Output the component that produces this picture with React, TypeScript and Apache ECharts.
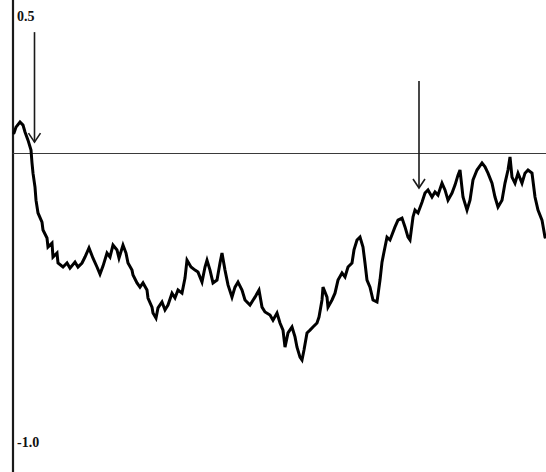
import React, { useEffect, useRef } from "react";
import * as echarts from "echarts";

// Time steps of the walk (horizontal units)
const steps = [
  1, 3, 7, 10, 12, 15, 18, 19, 20, 22,
  23, 25, 29, 30, 34, 35, 39, 40, 44, 45,
  50, 54, 57, 62, 65, 69, 72, 76, 80, 84,
  87, 90, 94, 97, 100, 104, 106, 110, 113, 115,
  119, 120, 124, 127, 130, 134, 135, 139, 140, 143,
  145, 149, 152, 155, 159, 162, 165, 169, 172, 174,
  178, 182, 185, 189, 192, 194, 197, 200, 204, 207,
  209, 212, 215, 219, 222, 225, 229, 232, 237, 242,
  246, 249, 252, 257, 260, 264, 267, 270, 272, 275,
  279, 282, 284, 287, 289, 291, 294, 297, 300, 304,
  306, 309, 310, 314, 315, 319, 322, 325, 329, 332,
  335, 339, 341, 344, 347, 350, 352, 354, 357, 360,
  364, 367, 369, 371, 374, 377, 382, 385, 389, 392,
  395, 397, 400, 402, 405, 409, 412, 415, 419, 422,
  425, 429, 432, 435, 439, 442, 445, 447, 450, 454,
  457, 460, 464, 469, 472, 475, 479, 482, 485, 489,
  492, 495, 497, 499, 502, 505, 509, 512, 515, 519,
  522, 525, 529, 532,
];

// Value of the walk at each step
const values = [
  0.072, 0.093, 0.111, 0.1, 0.076, 0.047, 0.012, -0.033, -0.069, -0.118,
  -0.164, -0.209, -0.241, -0.269, -0.297, -0.329, -0.315, -0.364, -0.35, -0.385,
  -0.399, -0.385, -0.403, -0.382, -0.399, -0.385, -0.364, -0.332, -0.368, -0.399,
  -0.424, -0.396, -0.35, -0.364, -0.322, -0.339, -0.368, -0.322, -0.35, -0.385,
  -0.41, -0.427, -0.455, -0.47, -0.455, -0.48, -0.508, -0.54, -0.561, -0.579,
  -0.543, -0.522, -0.55, -0.533, -0.491, -0.508, -0.48, -0.491, -0.438, -0.375,
  -0.399, -0.41, -0.417, -0.452, -0.399, -0.375, -0.41, -0.455, -0.445, -0.385,
  -0.35, -0.41, -0.462, -0.505, -0.47, -0.452, -0.48, -0.515, -0.533, -0.505,
  -0.48, -0.54, -0.557, -0.568, -0.586, -0.561, -0.596, -0.621, -0.681, -0.631,
  -0.61, -0.645, -0.681, -0.716, -0.726, -0.691, -0.631, -0.621, -0.61, -0.596,
  -0.575, -0.515, -0.47, -0.505, -0.54, -0.515, -0.491, -0.445, -0.42, -0.434,
  -0.399, -0.385, -0.339, -0.304, -0.294, -0.329, -0.385, -0.445, -0.47, -0.515,
  -0.522, -0.445, -0.382, -0.346, -0.294, -0.304, -0.258, -0.234, -0.227, -0.258,
  -0.294, -0.304, -0.223, -0.199, -0.209, -0.171, -0.139, -0.128, -0.153, -0.135,
  -0.146, -0.104, -0.128, -0.164, -0.139, -0.111, -0.076, -0.058, -0.153, -0.199,
  -0.164, -0.093, -0.058, -0.033, -0.047, -0.069, -0.104, -0.153, -0.188, -0.164,
  -0.104, -0.058, -0.012, -0.083, -0.104, -0.069, -0.104, -0.069, -0.058, -0.069,
  -0.153, -0.199, -0.234, -0.294,
];

// Axis tick labels
const tickValues = [0.5, -1.0];

// Arrows: [step, value at tail, value at tip]
const arrows = [
  [21.5, 0.427, 0.04],
  [406, 0.255, -0.121],
];

export default function App() {
  const ref = useRef<HTMLDivElement>(null);

  useEffect(() => {
    if (!ref.current) return;
    const chart = echarts.init(ref.current, null, { renderer: "svg" });
    const walk = steps.map((s, i) => [s, values[i]]);

    chart.setOption({
      animation: false,
      backgroundColor: "#ffffff",
      grid: { left: 13, right: 0, top: 0, bottom: 0 },
      xAxis: {
        type: "value",
        min: 0,
        max: 533,
        axisLine: { show: true, onZero: true, lineStyle: { color: "#3a3a3a", width: 1.2 } },
        axisTick: { show: false },
        axisLabel: { show: false },
        splitLine: { show: false },
      },
      yAxis: {
        type: "value",
        min: -1.12,
        max: 0.54,
        axisLine: { show: true, lineStyle: { color: "#1a1a1a", width: 2.2 } },
        axisTick: { show: false },
        splitLine: { show: false },
        axisLabel: {
          show: true,
          inside: true,
          margin: 4,
          customValues: tickValues,
          formatter: (v: number) => v.toFixed(1),
          fontFamily: "Liberation Serif",
          fontWeight: "bold",
          fontSize: 14,
          color: "#111",
          verticalAlign: "top",
          lineHeight: 10,
        },
      },
      series: [
        {
          type: "line",
          data: walk,
          showSymbol: false,
          lineStyle: { color: "#000", width: 3, join: "miter", cap: "round" },
          z: 3,
        },
        {
          type: "custom",
          data: arrows,
          encode: { x: 0, y: [1, 2] },
          z: 4,
          renderItem: (_params: any, api: any) => {
            const tail = api.coord([api.value(0), api.value(1)]);
            const tip = api.coord([api.value(0), api.value(2)]);
            const stroke = { stroke: "#1a1a1a", lineWidth: 1.6, fill: null };
            return {
              type: "group",
              children: [
                {
                  type: "line",
                  shape: { x1: tail[0], y1: tail[1], x2: tip[0], y2: tip[1] },
                  style: stroke,
                },
                {
                  type: "polyline",
                  shape: {
                    points: [
                      [tip[0] - 6, tip[1] - 9],
                      [tip[0], tip[1]],
                      [tip[0] + 6, tip[1] - 9],
                    ],
                  },
                  style: stroke,
                },
              ],
            };
          },
        },
      ],
    });

    return () => chart.dispose();
  }, []);

  return (
    <div
      ref={ref}
      style={{ position: "fixed", left: 0, top: 0, width: 546, height: 472 }}
    />
  );
}
